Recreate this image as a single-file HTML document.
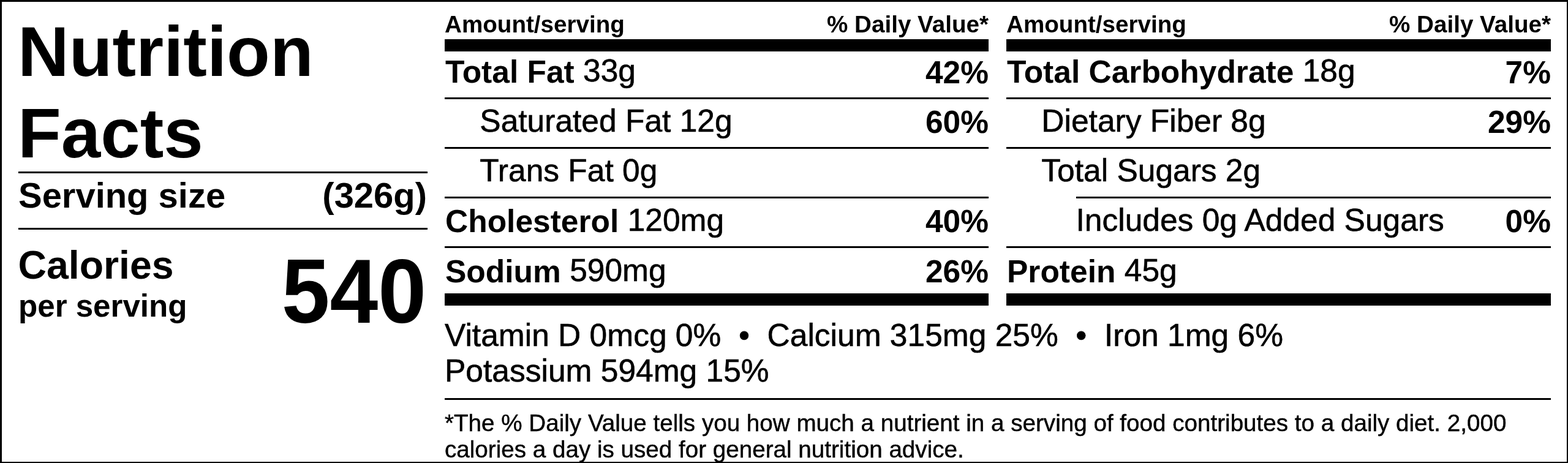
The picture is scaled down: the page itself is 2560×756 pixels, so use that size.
<!DOCTYPE html>
<html lang="en">
<head>
<meta charset="utf-8">
<title>Nutrition Facts</title>
<style>
html,body{margin:0;padding:0;background:#fff;}
body{width:2560px;height:756px;overflow:hidden;position:relative;font-family:"Liberation Sans",sans-serif;color:#000;}
.label{position:absolute;left:0;top:0;width:2560px;height:756px;overflow:hidden;background:#fff;}
.frame{position:absolute;left:0;top:0;width:2560px;height:756px;box-sizing:border-box;border-style:solid;border-color:#000;border-width:3px 2px 2px 3px;z-index:5;pointer-events:none;}
.t{position:absolute;margin:0;white-space:nowrap;line-height:1;font-weight:400;}
.t b{font-weight:700;-webkit-text-stroke:0;}
.row,.vit{-webkit-text-stroke:0.6px #000;}
.fn{-webkit-text-stroke:0.45px #000;}
.amt{position:relative;}
.r{position:absolute;background:#000;}
</style>
</head>
<body>
<div class="label">
<div class="t title" style="top:27.01px;font-size:115.88px;left:29px;font-weight:700;">Nutrition</div>
<div class="t title" style="top:160.01px;font-size:115.88px;left:29px;font-weight:700;">Facts</div>
<span class="t serving" style="top:291px;font-size:57.94px;left:30px;font-weight:700;">Serving size</span>
<span class="t serving" style="top:291px;font-size:57.94px;right:1863px;font-weight:700;">(326g)</span>
<span class="t cal" style="top:401.01px;font-size:64.38px;left:29.5px;font-weight:700;">Calories</span>
<span class="t cal" style="top:474.01px;font-size:51.1px;left:30px;font-weight:700;">per serving</span>
<span class="t calnum" style="top:408.05px;font-size:141.62px;right:1864px;font-weight:700;transform:scaleY(1.045);transform-origin:100% 118.95px;">540</span>
<span class="t hd" style="top:21.01px;font-size:38.62px;left:726px;font-weight:700;">Amount/serving</span>
<span class="t hd" style="top:21.01px;font-size:38.62px;right:946px;font-weight:700;">% Daily Value*</span>
<span class="t row" style="top:92px;font-size:51.5px;left:727px;"><b>Total Fat</b> <span class="amt" style="top:-2px">33g</span></span>
<span class="t dv" style="top:93px;font-size:51.5px;right:946px;font-weight:700;">42%</span>
<span class="t row" style="top:172px;font-size:51.5px;left:783.3px;">Saturated Fat 12g</span>
<span class="t dv" style="top:174px;font-size:51.5px;right:946px;font-weight:700;">60%</span>
<span class="t row" style="top:253px;font-size:51.5px;left:783.3px;">Trans Fat 0g</span>
<span class="t row" style="top:336px;font-size:51.5px;left:727px;"><b>Cholesterol</b> <span class="amt" style="top:-2px">120mg</span></span>
<span class="t dv" style="top:336px;font-size:51.5px;right:946px;font-weight:700;">40%</span>
<span class="t row" style="top:418px;font-size:51.5px;left:727px;"><b>Sodium</b> <span class="amt" style="top:-2px">590mg</span></span>
<span class="t dv" style="top:418px;font-size:51.5px;right:946px;font-weight:700;">26%</span>
<span class="t hd" style="top:21.01px;font-size:38.62px;left:1643px;font-weight:700;">Amount/serving</span>
<span class="t hd" style="top:21.01px;font-size:38.62px;right:28px;font-weight:700;">% Daily Value*</span>
<span class="t row" style="top:92px;font-size:51.5px;left:1644px;"><b>Total Carbohydrate</b> <span class="amt" style="top:-2px">18g</span></span>
<span class="t dv" style="top:93px;font-size:51.5px;right:28px;font-weight:700;">7%</span>
<span class="t row" style="top:172px;font-size:51.5px;left:1700.3px;">Dietary Fiber 8g</span>
<span class="t dv" style="top:174px;font-size:51.5px;right:28px;font-weight:700;">29%</span>
<span class="t row" style="top:253px;font-size:51.5px;left:1700.3px;">Total Sugars 2g</span>
<span class="t row" style="top:334px;font-size:51.5px;left:1756.5px;">Includes 0g Added Sugars</span>
<span class="t dv" style="top:336px;font-size:51.5px;right:28px;font-weight:700;">0%</span>
<span class="t row" style="top:418px;font-size:51.5px;left:1644px;"><b>Protein</b> <span class="amt" style="top:-2px">45g</span></span>
<span class="t vit" style="top:522px;font-size:51.5px;left:726px;">Vitamin D 0mcg 0% &nbsp;&bull;&nbsp; Calcium 315mg 25% &nbsp;&bull;&nbsp; Iron 1mg 6%</span>
<span class="t vit" style="top:580px;font-size:51.5px;left:726px;">Potassium 594mg 15%</span>
<span class="t fn" style="top:672.01px;font-size:38.62px;left:726px;">*The % Daily Value tells you how much a nutrient in a serving of food contributes to a daily diet. 2,000</span>
<span class="t fn" style="top:715.01px;font-size:38.62px;left:726px;">calories a day is used for general nutrition advice.</span>
<div class="r rule" style="left:30px;top:280px;width:668px;height:3px"></div>
<div class="r rule" style="left:30px;top:372px;width:668px;height:3px"></div>
<div class="r bar" style="left:726px;top:64px;width:888px;height:20px"></div>
<div class="r rule" style="left:726px;top:159px;width:888px;height:3px"></div>
<div class="r rule" style="left:726px;top:240px;width:888px;height:3px"></div>
<div class="r rule" style="left:726px;top:321px;width:888px;height:3px"></div>
<div class="r rule" style="left:726px;top:402px;width:888px;height:3px"></div>
<div class="r bar" style="left:726px;top:479px;width:888px;height:20px"></div>
<div class="r bar" style="left:1643px;top:64px;width:889px;height:20px"></div>
<div class="r rule" style="left:1643px;top:159px;width:889px;height:3px"></div>
<div class="r rule" style="left:1643px;top:240px;width:889px;height:3px"></div>
<div class="r rule" style="left:1756.5px;top:321px;width:775.5px;height:3px"></div>
<div class="r rule" style="left:1643px;top:402px;width:889px;height:3px"></div>
<div class="r bar" style="left:1643px;top:479px;width:889px;height:20px"></div>
<div class="r rule" style="left:726px;top:650px;width:1806px;height:3px"></div>
<div class="frame"></div>
</div>
</body>
</html>
